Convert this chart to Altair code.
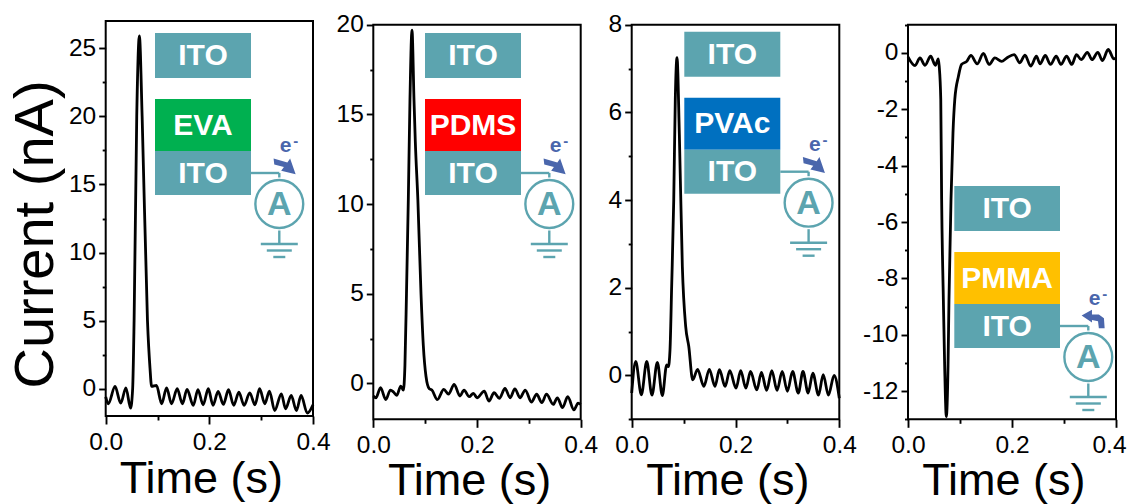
import altair as alt
import pandas as pd

T1 = [0,.005,.018,.029,.039,.048,.052,.0548,.0599,.065,.0703,.0806,.0855,.0886,.098,.108,.1175,.127,.138,.148,.157,.169,.178,.188,.198,.207,.217,.227,.237,.247,.257,.267,.278,.288,.297,.307,.316,.326,.339,.347,.358,.368,.377,.389,.4]
V1 = [-.6,-1.1,.17,-1.06,.07,-1.42,0,5,20,25.9,20,5,1.5,.17,.24,-1.1,.07,-1.1,0,-1.1,-.05,-1.22,-.07,-1.18,0,-1.22,-.2,-1.15,-.07,-1.22,-.25,-1.22,-.3,-1.18,0,-1.1,-.17,-1.6,-.37,-1.47,-.49,-1.6,-.49,-1.79,-1.18]

T2 = [0,.005,.014,.024,.033,.039,.045,.053,.058,.061,.064,.0675,.0707,.0746,.0785,.081,.086,.092,.0965,.1016,.108,.113,.1235,.136,.145,.156,.167,.175,.185,.193,.2,.214,.223,.233,.243,.254,.264,.273,.283,.293,.305,.315,.325,.334,.347,.355,.365,.375,.387,.395,.4]
V2 = [-.7,-.8,-.24,-.9,-.37,-.48,-.67,-.15,-.37,1,5,10.2,15.8,19.7,15.8,13.5,10.2,5,2.1,.4,-.3,-.37,-.9,-.33,-.6,-.05,-.7,-.37,-.74,-.55,-.8,-.43,-.98,-.52,-.83,-.28,-.8,-.3,-.8,-.37,-1.04,-.6,-1.07,-.6,-1.17,-.8,-1.35,-.74,-1.48,-1.1,-1.17]

T3 = [0,.0077,.0186,.029,.039,.0494,.059,.0674,.0706,.0738,.077,.081,.084,.0873,.0918,.0976,.104,.11,.1175,.127,.139,.1496,.1605,.169,.18,.189,.201,.21,.22,.229,.241,.25,.26,.27,.28,.29,.3,.31,.321,.33,.34,.349,.36,.369,.379,.39,.4]
V3 = [-.4,.32,-.44,.32,-.45,.3,-.46,.24,.2,.58,2.03,4,6.3,7.25,5.5,2.48,1.12,.66,-.1,.14,-.25,.14,-.25,.13,-.25,.11,-.29,.11,-.29,.09,-.33,.07,-.34,.11,-.34,.09,-.36,.09,-.4,.09,-.4,.05,-.45,.02,-.45,0,-.52]

T4 = [0,.0135,.023,.0327,.0436,.0526,.0583,.06,.063,.0647,.068,.0705,.0737,.077,.0788,.0827,.0865,.09,.097,.103,.113,.121,.133,.145,.156,.167,.18,.19,.204,.215,.225,.236,.247,.254,.264,.274,.285,.294,.305,.315,.324,.333,.345,.354,.365,.374,.385,.396,.4]
V4 = [-.14,-.45,-.18,-.44,-.12,-.44,-.21,-.47,-1.65,-5.2,-8.75,-11.1,-12.9,-11.1,-8.75,-5.2,-2.84,-1.65,-.83,-.41,-.3,-.09,-.39,-.02,-.41,-.18,-.3,-.18,-.06,-.35,-.08,-.47,-.12,-.39,-.09,-.41,-.12,-.41,-.12,-.41,-.06,-.24,.02,-.24,.02,-.27,.12,-.21,-.18]

Y_DOMAINS = [[-2, 27], [-2, 20], [-1, 8], [-13, 1]]
Y_MAJOR = [[0, 5, 10, 15, 20, 25], [0, 5, 10, 15, 20], [0, 2, 4, 6, 8], [0, -2, -4, -6, -8, -10, -12]]
Y_MINOR = [[2.5, 7.5, 12.5, 17.5, 22.5], [2.5, 7.5, 12.5, 17.5], [-1, 1, 3, 5, 7], [1, -1, -3, -5, -7, -9, -11, -13]]
X_MAJOR = [0.0, 0.2, 0.4]
X_MINOR = [0.1, 0.3]
POLYMERS = ["EVA", "PDMS", "PVAc", "PMMA"]
POLY_COLORS = ["#00b050", "#ff0000", "#0070c0", "#ffc000"]

W, H = 1119, 496
FONT = "Liberation Sans"
TEAL = "#5ca4af"
BLUE = "#4a66ac"


def px(p):
    return p - 8


# page-pixel frames: left, right, top, bottom
FRAMES = [(105.7, 313, 21, 416), (373.3, 580.7, 24.7, 419.3), (631.7, 839.3, 24.7, 419.3), (908, 1116, 24.7, 419.3)]
X_TITLE = [(200.8, 76.7), (469.2, 74.8), (727.3, 74.8), (1003.3, 74.8)]


def panel(i, t, v):
    l, r, top, bot = FRAMES[i]
    df = pd.DataFrame({"t": t, "v": v})
    xs = alt.Scale(domain=[0, 0.4], range=[px(l), px(r)], nice=False, zero=False)
    ys = alt.Scale(domain=Y_DOMAINS[i], range=[bot - 8, top - 8], nice=False, zero=False)
    off_x = -(H - (bot - 8))
    off_y = -px(l)
    common = dict(domain=False, grid=False, tickColor="black", tickWidth=1.9)

    box = pd.DataFrame({"a": [0.0], "b": [0.4], "c": [Y_DOMAINS[i][0]], "d": [Y_DOMAINS[i][1]]})
    frame = alt.Chart(box).mark_rect(fill="transparent", stroke="black", strokeWidth=2).encode(
        x=alt.X("a:Q", scale=xs, axis=None), x2="b:Q",
        y=alt.Y("c:Q", scale=ys, axis=None), y2="d:Q")

    x_kw = dict(title="Time (s)", titleFont=FONT, titleFontSize=45, titleFontWeight="normal",
                titleX=px(X_TITLE[i][0]), titleY=X_TITLE[i][1], titleAlign="center",
                titleBaseline="alphabetic", titleColor="black")
    if i == 3:
        # the last label of the last panel has to stay inside the page's right margin
        x_kw["labelOffset"] = {"condition": {"test": "datum.value > 0.3", "value": -7}, "value": 0}
    y_kw = dict(title=None)
    if i == 0:
        y_kw = dict(title="Current (nA)", titleFont=FONT, titleFontSize=56, titleFontWeight="normal",
                    titleX=-52.7, titleY=226, titleAlign="center", titleAngle=270,
                    titleBaseline="alphabetic", titleColor="black")

    line = alt.Chart(df).mark_line(color="black", strokeWidth=2.8, interpolate="monotone", strokeJoin="round").encode(
        x=alt.X("t:Q", scale=xs, axis=alt.Axis(orient="bottom", offset=off_x, values=X_MAJOR, format=".1f",
                tickSize=8, labelFont=FONT, labelFontSize=24.5, labelColor="black", labelPadding=6,
                labelFlush=False, labelOverlap=False, **x_kw, **common)),
        y=alt.Y("v:Q", scale=ys, axis=alt.Axis(orient="left", offset=off_y, values=Y_MAJOR[i],
                labelExpr="datum.value + ''", tickSize=7, labelFont=FONT, labelFontSize=24.5, labelColor="black",
                labelPadding=3, labelOverlap=False, **y_kw, **common)))

    minor = alt.Chart(df).mark_line(opacity=0).encode(
        x=alt.X("t:Q", scale=xs, axis=alt.Axis(orient="bottom", offset=off_x, values=X_MINOR, labels=False,
                tickSize=4, title=None, **common)),
        y=alt.Y("v:Q", scale=ys, axis=alt.Axis(orient="left", offset=off_y, values=Y_MINOR[i], labels=False,
                tickSize=3.5, title=None, **common)))
    return [frame, line, minor]


# Schematic anchors: left / right edge of boxes and top of the first ITO box (page px)
ANCHORS = [(155, 251, 33), (425, 521, 33), (684.3, 780.3, 31.7), (954.3, 1060, 186)]
rects, texts, rules, circles, arrows = [], [], [], [], []
ARROW_DOWN = "M-.85,-.55 L-.8,-.1 L-.1,.08 L-.3,.35 L.75,.6 L.35,-.55 L.15,-.25 Z"
ARROW_BACK = "M-.92,-.25 L-.17,-.67 L-.17,-.33 L.33,-.33 L.7,-.05 L.75,.67 L.33,.67 L.27,.17 L-.17,.08 L-.17,.25 Z"
for i, (a, b, y0) in enumerate(ANCHORS):
    m = (a + b) / 2
    y = y0 - 8
    rects += [dict(x=px(a), x2=px(b), y=y, y2=y + 45, c=TEAL),
              dict(x=px(a), x2=px(b), y=y + 66, y2=y + 118, c=POLY_COLORS[i]),
              dict(x=px(a), x2=px(b), y=y + 118, y2=y + 162, c=TEAL)]
    texts += [dict(x=px(m), y=y + 23, s="ITO", c="white", f=30), dict(x=px(m), y=y + 92.5, s=POLYMERS[i], c="white", f=30),
              dict(x=px(m), y=y + 140.5, s="ITO", c="white", f=30)]
    cx, cy = b + 28.3, y + 171
    texts += [dict(x=px(cx), y=cy + 1, s="A", c=TEAL, f=34),
              dict(x=px(cx + 6.3), y=cy - 58, s="e", c=BLUE, f=21),
              dict(x=px(cx + 16.5), y=cy - 63, s="-", c=BLUE, f=15)]
    circles.append(dict(x=px(cx), y=cy))
    rules += [dict(x=px(b), x2=px(cx), y=cy - 31, y2=cy - 31), dict(x=px(cx), x2=px(cx), y=cy - 31, y2=cy - 26.5),
              dict(x=px(cx), x2=px(cx), y=cy + 26.5, y2=cy + 40),
              dict(x=px(cx - 18.5), x2=px(cx + 18.5), y=cy + 40, y2=cy + 40),
              dict(x=px(cx - 12.5), x2=px(cx + 12.5), y=cy + 46.5, y2=cy + 46.5),
              dict(x=px(cx - 6), x2=px(cx + 6), y=cy + 53, y2=cy + 53)]
    arrows.append(dict(x=px(cx + 6), y=cy - 38, p=ARROW_DOWN if i != 3 else ARROW_BACK))

X = lambda f: alt.X(f, scale=None, axis=None)
Y = lambda f: alt.Y(f, scale=None, axis=None)

rect_layer = alt.Chart(pd.DataFrame(rects)).mark_rect().encode(
    x=X("x:Q"), x2="x2:Q", y=Y("y:Q"), y2="y2:Q", color=alt.Color("c:N", scale=None, legend=None))
rule_layer = alt.Chart(pd.DataFrame(rules)).mark_rule(color=TEAL, strokeWidth=2.4).encode(
    x=X("x:Q"), x2="x2:Q", y=Y("y:Q"), y2="y2:Q")
circle_layer = alt.Chart(pd.DataFrame(circles)).mark_point(shape="circle", filled=False, size=2290, stroke=TEAL,
                                                           strokeWidth=2.4, opacity=1).encode(x=X("x:Q"), y=Y("y:Q"))
text_layer = alt.Chart(pd.DataFrame(texts)).mark_text(font=FONT, fontWeight="bold", baseline="middle", align="center").encode(
    x=X("x:Q"), y=Y("y:Q"), text="s:N", color=alt.Color("c:N", scale=None, legend=None),
    size=alt.Size("f:Q", scale=None, legend=None))
arrow_layers = [alt.Chart(pd.DataFrame([r])).mark_point(shape=r["p"], filled=True, size=760, color=BLUE, opacity=1, strokeWidth=0).encode(
    x=X("x:Q"), y=Y("y:Q")) for r in arrows]

layers = []
for i, (t, v) in enumerate([(T1, V1), (T2, V2), (T3, V3), (T4, V4)]):
    layers += panel(i, t, v)
layers += [rect_layer, rule_layer, circle_layer, text_layer] + arrow_layers

chart = alt.layer(*layers).resolve_scale(x="independent", y="independent", color="independent", size="independent").properties(
    width=W, height=H, padding=0, autosize=alt.AutoSizeParams(type="none")
).configure_view(stroke=None)

chart.save("out.html", embed_options={"renderer": "svg", "actions": False})
